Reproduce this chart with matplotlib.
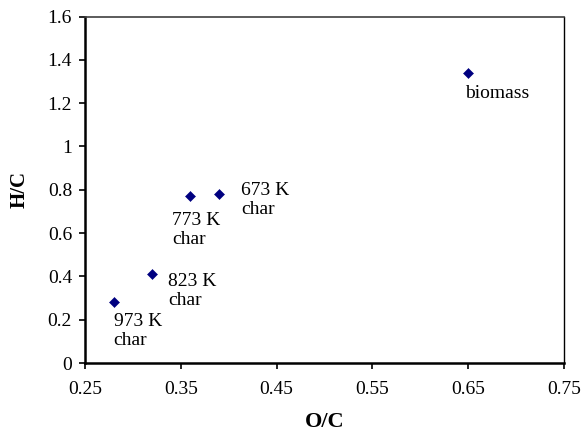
import numpy as np
import matplotlib.pyplot as plt

plt.rcParams["font.family"] = ["Liberation Serif", "DejaVu Serif"]

# data
oc = [0.65, 0.39, 0.36, 0.32, 0.28]
hc = [1.34, 0.78, 0.77, 0.41, 0.28]
labels = ["biomass", "673 K\nchar", "773 K\nchar", "823 K\nchar", "973 K\nchar"]
# label offsets in pixels (dx, dy) from the marker to the text top-left
offsets = [(-3, -12), (22, 12), (-18, -16), (16, 1), (0, -11)]

xticks = [0.25, 0.35, 0.45, 0.55, 0.65, 0.75]
yticks = np.arange(0, 1.61, 0.2)
ytick_labels = ["0", "0.2", "0.4", "0.6", "0.8", "1", "1.2", "1.4", "1.6"]

fig = plt.figure(figsize=(5.88, 4.34), dpi=100)
ax = fig.add_axes([85 / 588, 1 - 363 / 434, (564 - 85) / 588, (363 - 16.5) / 434])

ax.plot(oc, hc, linestyle="none", marker="D", markersize=5.5,
        markeredgewidth=0.4, color="#000080")

for x, y, lab, (dx, dy) in zip(oc, hc, labels, offsets):
    ax.annotate(lab, (x, y), xytext=(dx, dy), textcoords="offset pixels",
                ha="left", va="top", fontsize=14, linespacing=1.15)

ax.set_xlim(0.25, 0.75)
ax.set_ylim(0, 1.6)
ax.set_xticks(xticks)
ax.set_xticklabels([f"{t:.2f}" for t in xticks])
ax.set_yticks(yticks)
ax.set_yticklabels(ytick_labels)
ax.tick_params(direction="out", length=4.3, width=1.2, labelsize=14, pad=5)
ax.tick_params(axis="x", pad=9)

ax.set_xlabel("O/C", fontsize=16, fontweight="bold", labelpad=10)
ax.set_ylabel("H/C", fontsize=15, fontweight="bold", labelpad=13)

for side in ["left", "bottom"]:
    ax.spines[side].set_linewidth(1.8)
    ax.spines[side].set_color("black")
ax.spines["top"].set_color("#404040")
ax.spines["top"].set_linewidth(1.2)
ax.spines["right"].set_color("black")
ax.spines["right"].set_linewidth(1.0)

fig.savefig("out.png", dpi=100)
